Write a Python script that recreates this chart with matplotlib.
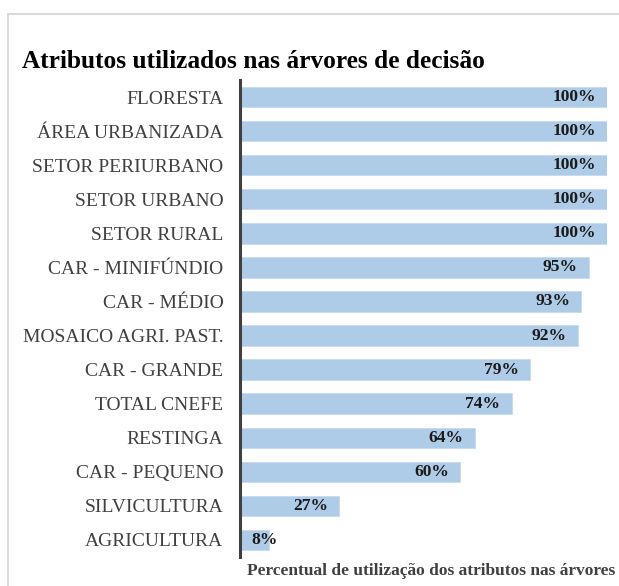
import matplotlib
matplotlib.use("Agg")
import matplotlib.pyplot as plt
from matplotlib.lines import Line2D

categories = [
    "FLORESTA", "ÁREA URBANIZADA", "SETOR PERIURBANO", "SETOR URBANO",
    "SETOR RURAL", "CAR - MINIFÚNDIO", "CAR - MÉDIO", "MOSAICO AGRI. PAST.",
    "CAR - GRANDE", "TOTAL CNEFE", "RESTINGA", "CAR - PEQUENO",
    "SILVICULTURA", "AGRICULTURA",
]
values = [100, 100, 100, 100, 100, 95, 93, 92, 79, 74, 64, 60, 27, 8]

title = "Atributos utilizados nas árvores de decisão"
xlabel = "Percentual de utilização dos atributos nas árvores"

W, H = 619, 586
fig = plt.figure(figsize=(W / 100, H / 100), dpi=100)
serif = ["Liberation Serif", "DejaVu Serif"]

# outer frame (top and left edges)
fig.add_artist(Line2D([8 / W, 1.0], [1 - 14 / H, 1 - 14 / H], color="#d9d9d9", lw=1.4, transform=fig.transFigure))
fig.add_artist(Line2D([8 / W, 8 / W], [1 - 14 / H, 0.0], color="#d9d9d9", lw=1.4, transform=fig.transFigure))

ax = fig.add_axes([240 / W, 1 - 557 / H, (607 - 240) / W, (557 - 80) / H])
pos = list(range(len(categories)))
ax.barh(pos, values, height=0.6, color="#aecbe8", edgecolor="#c5dbf0", linewidth=0.6)
ax.set_xlim(0, 100)
ax.set_ylim(len(categories) - 0.5, -0.5)

ax.set_yticks(pos)
ax.set_yticklabels(categories, family=serif, fontsize=14, color="#404040")
ax.tick_params(axis="y", length=0, pad=12)
ax.set_xticks([])
for s in ["top", "right", "bottom"]:
    ax.spines[s].set_visible(False)
ax.spines["left"].set_color("#404040")
ax.spines["left"].set_linewidth(2.2)

for p, v in zip(pos, values):
    if v >= 15:
        ax.annotate(f"{v}%", (v, p), xytext=(-8, 0), textcoords="offset points",
                    ha="right", va="center", family=serif, fontweight="bold",
                    fontsize=12.6, color="#1a1a1a")
    else:
        ax.annotate(f"{v}%", (0, p), xytext=(8, 0), textcoords="offset points",
                    ha="left", va="center", family=serif, fontweight="bold",
                    fontsize=12.6, color="#1a1a1a")

fig.text(22 / W, 1 - 61 / H, title, family=serif, fontweight="bold",
         fontsize=18.3, color="#000000", ha="left", va="center")
fig.text(615 / W, 1 - 571 / H, xlabel, family=serif, fontweight="bold",
         fontsize=12.5, color="#404040", ha="right", va="center")

fig.savefig("out.png", dpi=100)
